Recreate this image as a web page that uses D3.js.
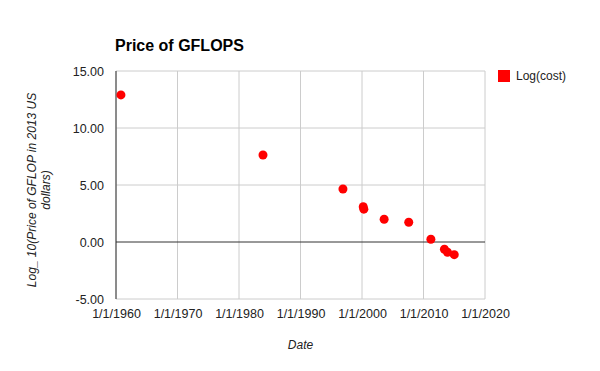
<!DOCTYPE html>
<html>
<head>
<meta charset="utf-8">
<script src="https://cdn.jsdelivr.net/npm/d3@7"></script>
<style>
  body { margin: 0; background: #fff; }
  text { font-family: Arial, "Liberation Sans", sans-serif; }
</style>
</head>
<body>
<script>
// data: year (decimal) and log10 cost
const years = [1960.8, 1983.9, 1996.9, 2000.2, 2000.3, 2003.6, 2007.6, 2011.2, 2013.4, 2013.9, 2015.0];
const logCost = [12.9, 7.63, 4.65, 3.1, 2.88, 2.0, 1.73, 0.24, -0.64, -0.9, -1.11];
const yTicks = [-5, 0, 5, 10, 15];
const xTickYears = [1960, 1970, 1980, 1990, 2000, 2010, 2020];

function yearToDate(y) {
    let yr = Math.floor(y);
    let start = new Date(yr, 0, 1), end = new Date(yr + 1, 0, 1);
    return new Date(+start + (y - yr) * (end - start));
}

function display_chart(width = 600, height = 371) {
    let svg = d3.select("body").append("svg")
        .attr("width", width)
        .attr("height", height);

    let left = 116, right = 485, top = 71, bottom = 299;

    let x = d3.scaleTime()
        .domain([new Date(1960, 0, 1), new Date(2020, 0, 1)])
        .range([left, right]);
    let y = d3.scaleLinear()
        .domain([-5, 15])
        .range([bottom, top]);

    // gridlines
    svg.append("g")
        .selectAll("line.v")
        .data(xTickYears)
        .join("line")
        .attr("x1", d => x(new Date(d, 0, 1)))
        .attr("x2", d => x(new Date(d, 0, 1)))
        .attr("y1", top)
        .attr("y2", bottom)
        .attr("stroke", "#cccccc");
    svg.append("g")
        .selectAll("line.h")
        .data(yTicks)
        .join("line")
        .attr("x1", left)
        .attr("x2", right)
        .attr("y1", d => y(d))
        .attr("y2", d => y(d))
        .attr("stroke", d => d === 0 ? "#333333" : "#cccccc");

    // left axis line
    svg.append("line")
        .attr("x1", left).attr("x2", left)
        .attr("y1", top).attr("y2", bottom)
        .attr("stroke", "#333333");

    // y tick labels (plain hyphen for negatives, like the original)
    let yAxis = d3.axisLeft(y)
        .tickValues(yTicks)
        .tickFormat(d => d.toFixed(2))
        .tickSize(0)
        .tickPadding(12);
    let ya = svg.append("g")
        .attr("transform", `translate(${left},0)`)
        .call(yAxis);
    ya.select(".domain").remove();
    ya.selectAll("text")
        .attr("font-size", 12.5)
        .attr("font-family", "Arial, 'Liberation Sans', sans-serif")
        .attr("fill", "#222");

    // x tick labels
    let xAxis = d3.axisBottom(x)
        .tickValues(xTickYears.map(d => new Date(d, 0, 1)))
        .tickFormat(d => "1/1/" + d.getFullYear())
        .tickSize(0)
        .tickPadding(10);
    let xa = svg.append("g")
        .attr("transform", `translate(0,${bottom})`)
        .call(xAxis);
    xa.select(".domain").remove();
    xa.selectAll("text")
        .attr("font-size", 12.5)
        .attr("font-family", "Arial, 'Liberation Sans', sans-serif")
        .attr("fill", "#222");

    // points
    svg.append("g")
        .selectAll("circle")
        .data(years.map((d, i) => ({date: yearToDate(d), v: logCost[i]})))
        .join("circle")
        .attr("cx", d => x(d.date))
        .attr("cy", d => y(d.v))
        .attr("r", 4.5)
        .attr("fill", "#ff0000");

    // title
    svg.append("text")
        .attr("x", 115)
        .attr("y", 51)
        .attr("font-size", 16)
        .attr("font-weight", "bold")
        .attr("fill", "#000")
        .text("Price of GFLOPS");

    // x label
    svg.append("text")
        .attr("x", (left + right) / 2)
        .attr("y", 349)
        .attr("text-anchor", "middle")
        .attr("font-size", 12)
        .attr("font-style", "italic")
        .attr("fill", "#222")
        .text("Date");

    // y label
    let yl = svg.append("text")
        .attr("transform", `translate(36,190) rotate(-90)`)
        .attr("text-anchor", "middle")
        .attr("font-size", 12)
        .attr("font-style", "italic")
        .attr("fill", "#222");
    yl.append("tspan").attr("x", 0).attr("dy", 0).text("Log_ 10(Price of GFLOP in 2013 US");
    yl.append("tspan").attr("x", 0).attr("dy", 14).text("dollars)");

    // legend
    svg.append("rect")
        .attr("x", 498).attr("y", 70)
        .attr("width", 12).attr("height", 12)
        .attr("fill", "#ff0000");
    svg.append("text")
        .attr("x", 516).attr("y", 80)
        .attr("font-size", 12)
        .attr("fill", "#222")
        .text("Log(cost)");
}

display_chart();
</script>
</body>
</html>
